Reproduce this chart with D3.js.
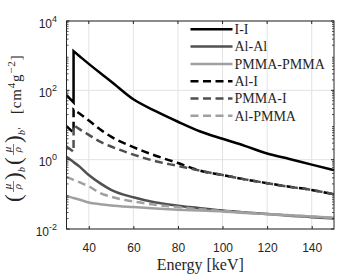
<!DOCTYPE html>
<html>
<head>
<meta charset="utf-8">
<script src="https://cdn.jsdelivr.net/npm/d3@7"></script>
<style>
  body { margin: 0; background: #fff; }
  svg text { fill: #262626; }
</style>
</head>
<body>
<svg id="chart" width="350" height="275"></svg>
<script>
// energies in keV, the iodine K-edge (33.17) appears twice : value below / above the edge
const energies = [30, 33.17, 33.17, 36, 40, 45, 50, 60, 70, 80, 90, 100, 110, 120, 130, 140, 150];

const valuesII = [73, 45, 1350, 950, 580, 320, 180, 55, 25, 12.4, 6.5, 4.0, 2.5, 1.5, 1.05, 0.72, 0.5];
const valuesAlAl = [1.22, 0.85, 0.85, 0.62, 0.36, 0.21, 0.135, 0.082, 0.058, 0.047, 0.040, 0.034, 0.030, 0.027, 0.024, 0.022, 0.020];
const valuesPmmaPmma = [0.09, 0.078, 0.078, 0.07, 0.058, 0.052, 0.048, 0.043, 0.039, 0.036, 0.034, 0.032, 0.029, 0.027, 0.025, 0.023, 0.021];
const valuesAlI = [9.3, 6.0, 28, 21, 13.5, 7.5, 4.6, 2.3, 1.3, 0.8, 0.48, 0.36, 0.27, 0.21, 0.165, 0.134, 0.10];
const valuesPmmaI = [2.4, 1.7, 10, 7.5, 5.2, 3.3, 2.4, 1.4, 0.9, 0.66, 0.48, 0.36, 0.27, 0.21, 0.165, 0.134, 0.10];
const valuesAlPmma = [0.32, 0.26, 0.26, 0.22, 0.17, 0.11, 0.085, 0.062, 0.05, 0.043, 0.037, 0.033, 0.030, 0.027, 0.025, 0.023, 0.021];

const seriesNames = ["I-I", "Al-Al", "PMMA-PMMA", "Al-I", "PMMA-I", "Al-PMMA"];
const seriesValues = [valuesII, valuesAlAl, valuesPmmaPmma, valuesAlI, valuesPmmaI, valuesAlPmma];

const xTicks = [40, 60, 80, 100, 120, 140];
const yTicks = [1e-2, 1e0, 1e2, 1e4];
const yTickExponents = ["-2", "0", "2", "4"];

const colors = ["#000000", "#505050", "#a0a0a0", "#000000", "#505050", "#a0a0a0"];
const dashes = [null, null, null, "8,4.5", "8,4.5", "8,4.5"];

const svg = d3.select('#chart');
const margin = { top: 21, right: 16, bottom: 46, left: 66.5 };
const width = 350 - margin.left - margin.right;
const height = 275 - margin.top - margin.bottom;

const g = svg.append('g').attr('transform', `translate(${margin.left},${margin.top})`);

const x = d3.scaleLinear().domain([30, 150]).range([0, width]);
const y = d3.scaleLog().domain([1e-2, 1e4]).range([height, 0]);

// grid
g.append('g').selectAll('line').data(xTicks).join('line')
    .attr('x1', d => x(d)).attr('x2', d => x(d))
    .attr('y1', 0).attr('y2', height)
    .attr('stroke', '#e3e3e3').attr('stroke-width', 1);
g.append('g').selectAll('line').data(yTicks).join('line')
    .attr('x1', 0).attr('x2', width)
    .attr('y1', d => y(d)).attr('y2', d => y(d))
    .attr('stroke', '#e3e3e3').attr('stroke-width', 1);

// curves : linear segment before the edge, smooth after it, in one path so dashes run on
const lineLin = d3.line().x(d => x(d[0])).y(d => y(d[1]));
const lineSmooth = d3.line().x(d => x(d[0])).y(d => y(d[1])).curve(d3.curveMonotoneX);

seriesValues.forEach((vals, i) => {
    const pts = energies.map((e, j) => [e, vals[j]]);
    const pre = pts.slice(0, 2);
    const post = pts.slice(2);
    const d = lineLin(pre) + lineSmooth(post).replace(/^M/, 'L');
    g.append('path')
        .attr('d', d)
        .attr('fill', 'none')
        .attr('stroke', colors[i])
        .attr('stroke-width', 2.5)
        .attr('stroke-dasharray', dashes[i]);
});

// axes box
const axisColor = '#262626';
g.append('rect').attr('width', width).attr('height', height)
    .attr('fill', 'none').attr('stroke', axisColor).attr('stroke-width', 1);

// x ticks (bottom + top, inward)
const xAxis = d3.axisBottom(x).tickValues(xTicks).tickSize(-3).tickPadding(14);
const xg = g.append('g').attr('transform', `translate(0,${height})`).call(xAxis);
xg.select('.domain').remove();
xg.selectAll('line').attr('stroke', axisColor);
xg.selectAll('text').style('font-family', 'Liberation Sans, Arial, sans-serif').style('font-size', '12px').attr('fill', axisColor);
g.append('g').selectAll('line').data(xTicks).join('line')
    .attr('x1', d => x(d)).attr('x2', d => x(d))
    .attr('y1', 0).attr('y2', 3).attr('stroke', axisColor);

// y ticks, major and minor, left + right
const minor = [];
for (let e = -2; e < 4; e++) for (let m = 2; m <= 9; m++) minor.push(m * Math.pow(10, e));
[0, width].forEach(x0 => {
    const dir = x0 === 0 ? 1 : -1;
    g.append('g').selectAll('line').data(minor).join('line')
        .attr('x1', x0).attr('x2', x0 + dir * 2)
        .attr('y1', d => y(d)).attr('y2', d => y(d))
        .attr('stroke', axisColor).attr('stroke-width', 0.8);
    g.append('g').selectAll('line').data(yTicks).join('line')
        .attr('x1', x0).attr('x2', x0 + dir * 3)
        .attr('y1', d => y(d)).attr('y2', d => y(d))
        .attr('stroke', axisColor);
});

const yLab = g.append('g').selectAll('text').data(yTicks).join('text')
    .attr('x', -9.5)
    .attr('y', d => y(d) + 6.5)
    .attr('text-anchor', 'end')
    .style('font-family', 'Liberation Sans, Arial, sans-serif')
    .style('font-size', '12px');
yLab.append('tspan').text('10');
yLab.append('tspan').attr('dy', -6).style('font-size', '9px').text((d, i) => yTickExponents[i]);

// x label
svg.append('text')
    .attr('x', margin.left + width / 2)
    .attr('y', 270)
    .attr('text-anchor', 'middle')
    .style('font-family', 'Liberation Serif, serif')
    .style('font-size', '16px')
    .text('Energy [keV]');

// y label, built piece by piece in a rotated frame
const yl = svg.append('g').attr('transform', 'translate(1.5,202) rotate(-90)')
    .style('font-family', 'Liberation Serif, serif');
function paren(u, ch) {
    yl.append('text').attr('x', u).attr('y', 19.5).style('font-size', '23px').text(ch);
}
function frac(u) {
    yl.append('text').attr('x', u + 5.5).attr('y', 9.5).attr('text-anchor', 'middle')
        .style('font-size', '11px').style('font-style', 'italic').text('μ');
    yl.append('line').attr('x1', u).attr('x2', u + 11).attr('y1', 12).attr('y2', 12)
        .attr('stroke', '#262626').attr('stroke-width', 0.6);
    yl.append('text').attr('x', u + 5.5).attr('y', 19.5).attr('text-anchor', 'middle')
        .style('font-size', '11px').style('font-style', 'italic').text('ρ');
}
paren(0, '(');
frac(10);
paren(22, ')');
yl.append('text').attr('x', 30).attr('y', 23).style('font-size', '10px').style('font-style', 'italic').text('b');
paren(37, '(');
frac(47);
paren(59, ')');
yl.append('text').attr('x', 67).attr('y', 23).style('font-size', '10px').style('font-style', 'italic').text('b′');
const unit = yl.append('text').attr('x', 88).attr('y', 19.5)
    .style('font-size', '15px').style('letter-spacing', '0.8px');
unit.append('tspan').text('[cm');
unit.append('tspan').attr('dy', -6).style('font-size', '11px').text('4');
unit.append('tspan').attr('dy', 6).text('g');
unit.append('tspan').attr('dy', -6).style('font-size', '11px').text('−2');
unit.append('tspan').attr('dy', 6).text(']');

// legend, no box
const legend = svg.append('g').attr('transform', 'translate(190.5,29.3)');
seriesNames.forEach((name, i) => {
    const row = legend.append('g').attr('transform', `translate(0,${i * 17.3})`);
    row.append('line').attr('x1', 0).attr('x2', 42).attr('y1', 0).attr('y2', 0)
        .attr('stroke', colors[i]).attr('stroke-width', 2.5)
        .attr('stroke-dasharray', dashes[i]);
    row.append('text').attr('x', 44).attr('y', 4.8)
        .style('font-family', 'Liberation Serif, serif')
        .style('font-size', '14px')
        .text(name);
});
</script>
</body>
</html>
